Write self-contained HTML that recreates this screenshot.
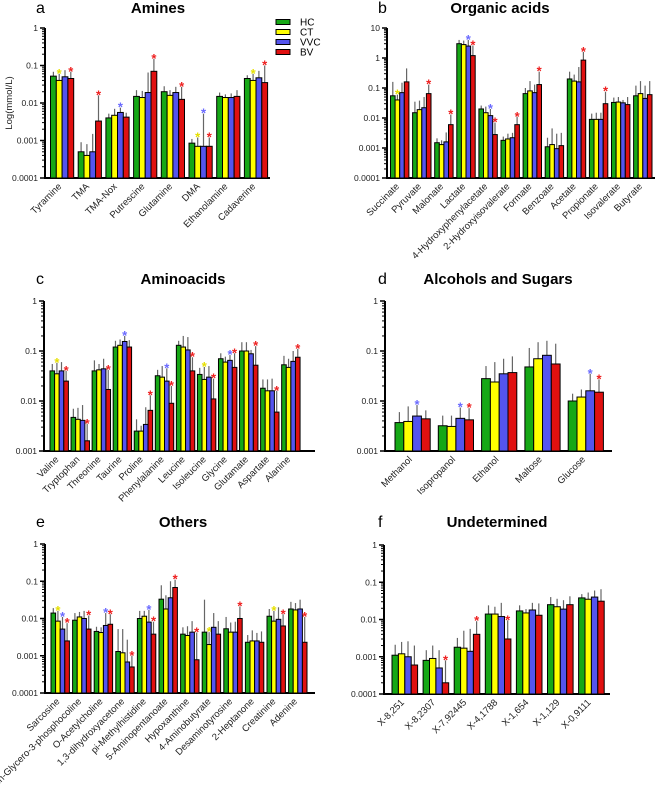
<!DOCTYPE html>
<html><head><meta charset="utf-8"><style>
html,body{margin:0;padding:0;background:#fff}
svg{display:block;font-family:"Liberation Sans",Arial,sans-serif}
</style></head><body>
<svg id="fig" width="656" height="790" viewBox="0 0 656 790"></svg>
<script>
const COLORS=['#16a816','#ffff00','#5454ee','#e01010'];
const STARC=['#16a816','#e6e000','#6a6aff','#ee2020'];
const SERIES=['HC','CT','VVC','BV'];

const aCats=['Tyramine','TMA','TMA-Nox','Putrescine','Glutamine','DMA','Ethanolamine','Cadaverine'];
const aHC=[0.052,0.0005,0.004,0.015,0.02,0.00085,0.015,0.045];
const aCT=[0.04,0.0004,0.0047,0.014,0.016,0.0007,0.014,0.04];
const aVVC=[0.05,0.0005,0.0056,0.019,0.019,0.0007,0.014,0.047];
const aBV=[0.045,0.0033,0.0042,0.07,0.0125,0.0007,0.015,0.035];
const aErr=[[.068,.06,.075,.068],[.0009,.0008,.0015,.016],[.0052,.007,.0075,.0055],[.022,.021,.065,.15],[.028,.022,.027,.027],[.0011,.0012,.0052,.0012],[.019,.017,.018,.022],[.055,.06,.072,.1]];
const aStars=[[1,3],[3],[2],[3],[3],[1,2,3],[],[1,3]];

const bCats=['Succinate','Pyruvate','Malonate','Lactate','4-Hydroxyphenylacetate','2-Hydroxyisovalerate','Formate','Benzoate','Acetate','Propionate','Isovalerate','Butyrate'];
const bHC=[0.055,0.015,0.0015,3,0.02,0.0018,0.065,0.0011,0.2,0.009,0.033,0.055];
const bCT=[0.04,0.019,0.0013,2.8,0.015,0.002,0.08,0.0013,0.17,0.009,0.034,0.065];
const bVVC=[0.07,0.022,0.0016,2.5,0.012,0.0022,0.07,0.00095,0.16,0.009,0.032,0.045];
const bBV=[0.16,0.065,0.006,1.2,0.0028,0.006,0.13,0.0012,0.85,0.03,0.028,0.06];
const bErr=[[.16,.06,.15,.45],[.035,.038,.05,.13],[.0021,.0018,.0033,.013],[4,3.8,4,2.6],[.026,.024,.02,.007],[.0024,.003,.0032,.011],[.1,.17,.13,.35],[.0022,.0045,.003,.0032],[.35,.28,.5,1.6],[.014,.015,.015,.075],[.048,.05,.04,.05],[.12,.17,.12,.17]];
const bStars=[[1],[3],[3],[2,3],[2,3],[3],[3],[],[3],[3],[],[]];

const cCats=['Valine','Tryptophan','Threonine','Taurine','Proline','Phenylalanine','Leucine','Isoleucine','Glycine','Glutamate','Aspartate','Alanine'];
const cHC=[0.04,0.0047,0.04,0.12,0.0025,0.032,0.13,0.034,0.07,0.1,0.018,0.053];
const cCT=[0.035,0.0043,0.042,0.13,0.0025,0.03,0.12,0.027,0.06,0.1,0.016,0.047];
const cVVC=[0.04,0.0041,0.044,0.155,0.0034,0.025,0.105,0.03,0.065,0.088,0.016,0.062];
const cBV=[0.025,0.0016,0.017,0.12,0.0065,0.009,0.04,0.011,0.047,0.052,0.006,0.075];
const cErr=[[.055,.058,.06,.04],[.007,.0073,.0083,.0035],[.065,.055,.07,.042],[.16,.17,.2,.165],[.0043,.0032,.0075,.013],[.042,.05,.045,.02],[.16,.2,.19,.075],[.046,.048,.05,.028],[.09,.077,.083,.09],[.15,.15,.105,.125],[.027,.027,.028,.016],[.08,.07,.1,.11]];
const cStars=[[1,3],[3],[3],[2],[3],[2,3],[3],[1,3],[2,3],[3],[3],[3]];

const dCats=['Methanol','Isopropanol','Ethanol','Maltose','Glucose'];
const dHC=[0.0037,0.0032,0.028,0.048,0.01];
const dCT=[0.0039,0.0031,0.024,0.07,0.012];
const dVVC=[0.005,0.0045,0.035,0.082,0.016];
const dBV=[0.0044,0.0042,0.037,0.055,0.015];
const dErr=[[.006,.0078,.0083,.0065],[.0051,.0051,.0074,.0072],[.05,.06,.07,.078],[.115,.15,.16,.14],[.014,.017,.035,.027]];
const dStars=[[2],[2,3],[],[],[2,3]];

const eCats=['Sarcosine','sn-Glycero-3-phosphocoline','O-Acetylcholine','1,3-dihydroxyacetone','pi-Methylhistidine','5-Aminopentanoate','Hypoxanthine','4-Aminobutyrate','Desaminotyrosine','2-Heptanone','Creatinine','Adenine'];
const eHC=[0.014,0.009,0.0045,0.0013,0.01,0.033,0.0038,0.0043,0.0053,0.0023,0.0115,0.018];
const eCT=[0.0085,0.011,0.0042,0.0012,0.0115,0.018,0.0035,0.002,0.0043,0.0025,0.0085,0.017];
const eVVC=[0.0052,0.01,0.0065,0.00068,0.008,0.036,0.0043,0.0058,0.0043,0.0025,0.0095,0.018];
const eBV=[0.0025,0.0052,0.007,0.0005,0.0038,0.068,0.00078,0.0038,0.01,0.0023,0.0063,0.0023];
const eErr=[[.019,.016,.011,.0075],[.014,.015,.016,.012],[.006,.0058,.014,.013],[.0052,.0052,.0027,.001],[.016,.016,.017,.0082],[.078,.042,.1,.11],[.0058,.0062,.0085,.0042],[.032,.0043,.014,.0085],[.011,.0078,.0082,.021],[.0036,.0048,.0041,.0045],[.018,.016,.02,.013],[.028,.026,.032,.011]];
const eStars=[[1,2,3],[3],[2,3],[3],[2,3],[3],[3],[1],[3],[],[1,3],[3]];

const fCats=['X-8,251','X-8,2307','X-7,92445','X-4,1788','X-1,654','X-1,129','X-0,9111'];
const fHC=[0.0011,0.0008,0.0018,0.014,0.017,0.025,0.038];
const fCT=[0.0012,0.0009,0.0017,0.014,0.015,0.022,0.035];
const fVVC=[0.001,0.0005,0.0014,0.012,0.018,0.019,0.04];
const fBV=[0.0006,0.0002,0.004,0.003,0.013,0.025,0.031];
const fErr=[[.0021,.0025,.0026,.002],[.0015,.002,.0015,.0008],[.0032,.005,.0056,.009],[.024,.022,.028,.0095],[.024,.019,.028,.027],[.04,.036,.033,.042],[.048,.053,.06,.065]];
const fStars=[[],[3],[3],[3],[],[],[]];

const NS='http://www.w3.org/2000/svg';
const svg=document.getElementById('fig');
function mk(tag,attrs,parent,text){const e=document.createElementNS(NS,tag);for(const k in attrs)e.setAttribute(k,attrs[k]);if(text!==undefined)e.textContent=text;(parent||svg).appendChild(e);return e;}

function panel(p){
  const g=mk('g',{});
  
  
  const y=v=>p.y1-(Math.log10(v)-p.lmin)/(p.lmax-p.lmin)*(p.y1-p.y0);
  const lt=mk('text',{x:p.lx,y:p.ty,'font-size':16,fill:'#000'},g,p.letter);
  
  const tt=mk('text',{x:p.tx,y:p.ty,'font-size':15,'font-weight':'bold','text-anchor':'middle',fill:'#000'},g,p.title);
  
  const ya=mk('line',{x1:p.ax,y1:p.y0,x2:p.ax,y2:p.y1+1,stroke:'#000','stroke-width':2},g);
  
  const xa=mk('line',{x1:p.ax-1,y1:p.y1,x2:p.xe,y2:p.y1,stroke:'#000','stroke-width':2},g);
  
  for(let e=p.lmin;e<=p.lmax;e++){
    const yy=y(Math.pow(10,e));
    mk('line',{x1:p.ax-5,y1:yy,x2:p.ax,y2:yy,stroke:'#000','stroke-width':1.5},g);
    const lab=Math.pow(10,e).toFixed(Math.max(0,-e));
    const t=mk('text',{x:p.ax-7,y:yy+3,'font-size':8.5,'text-anchor':'end',fill:'#222'},g,lab);
    
    if(e<p.lmax)for(let m=2;m<10;m++){const ym=y(m*Math.pow(10,e));mk('line',{x1:p.ax-3,y1:ym,x2:p.ax,y2:ym,stroke:'#000','stroke-width':1},g);}
  }
  const series=[p.hc,p.ct,p.vvc,p.bv];
  p.cats.forEach((c,i)=>{
    const gx=p.g0+i*p.pitch;
    for(let s=0;s<4;s++){
      const v=series[s][i];const bx=gx+s*p.bw;const by=y(v);
      const ex=bx+p.bw/2, et=y(p.err[i][s]);
      const el=mk('line',{x1:ex,y1:by,x2:ex,y2:et,stroke:'#666','stroke-width':1.2},g);
      
      const r=mk('rect',{x:bx,y:by,width:p.bw,height:p.y1-by,fill:COLORS[s],stroke:'#000','stroke-width':1},g);
      
      if(p.stars[i].includes(s)){
        const st=mk('text',{x:ex,y:et+4,'font-size':13,'font-weight':'bold','text-anchor':'middle',fill:STARC[s]},g,'*');
        
      }
    }
    const cx=gx+2*p.bw, ly=p.y1+9;
    const t=mk('text',{x:cx,y:ly,'font-size':9.5,'text-anchor':'end',fill:'#222',transform:`rotate(-45 ${cx} ${ly})`},g,c);
    
  });
}

panel({letter:'a',title:'Amines',lx:36,tx:158,ty:13,ax:45,y0:28,y1:178,lmin:-4,lmax:0,xe:270,g0:50.5,pitch:27.7,bw:5.8,cats:aCats,hc:aHC,ct:aCT,vvc:aVVC,bv:aBV,err:aErr,stars:aStars});
panel({letter:'b',title:'Organic acids',lx:378,tx:500,ty:13,ax:387,y0:28,y1:178,lmin:-4,lmax:1,xe:655,g0:390.5,pitch:22.1,bw:4.6,cats:bCats,hc:bHC,ct:bCT,vvc:bVVC,bv:bBV,err:bErr,stars:bStars});
panel({letter:'c',title:'Aminoacids',lx:36,tx:183,ty:284,ax:44,y0:301,y1:451,lmin:-3,lmax:0,xe:315,g0:50,pitch:21.06,bw:4.6,cats:cCats,hc:cHC,ct:cCT,vvc:cVVC,bv:cBV,err:cErr,stars:cStars});
panel({letter:'d',title:'Alcohols and Sugars',lx:378,tx:498,ty:284,ax:385,y0:301,y1:451,lmin:-3,lmax:0,xe:612,g0:395,pitch:43.3,bw:8.8,cats:dCats,hc:dHC,ct:dCT,vvc:dVVC,bv:dBV,err:dErr,stars:dStars});
panel({letter:'e',title:'Others',lx:36,tx:183,ty:527,ax:45,y0:544,y1:693,lmin:-4,lmax:0,xe:315,g0:51,pitch:21.6,bw:4.6,cats:eCats,hc:eHC,ct:eCT,vvc:eVVC,bv:eBV,err:eErr,stars:eStars});
panel({letter:'f',title:'Undetermined',lx:378,tx:497,ty:527,ax:384,y0:545,y1:694,lmin:-4,lmax:0,xe:610,g0:392,pitch:31.1,bw:6.4,cats:fCats,hc:fHC,ct:fCT,vvc:fVVC,bv:fBV,err:fErr,stars:fStars});

const yt=mk('text',{x:12,y:103,'font-size':9.5,'text-anchor':'middle',fill:'#222',transform:'rotate(-90 12 103)'},svg,'Log(mmol/L)');


SERIES.forEach((s,i)=>{
  const yy=22+i*10;
  const r=mk('rect',{x:276,y:yy-2.5,width:14,height:5,fill:COLORS[i],stroke:'#000','stroke-width':1});
  
  
  const t=mk('text',{x:300,y:yy+3.5,'font-size':10,fill:'#000'},svg,s);
  
  
});
</script>
</body></html>
